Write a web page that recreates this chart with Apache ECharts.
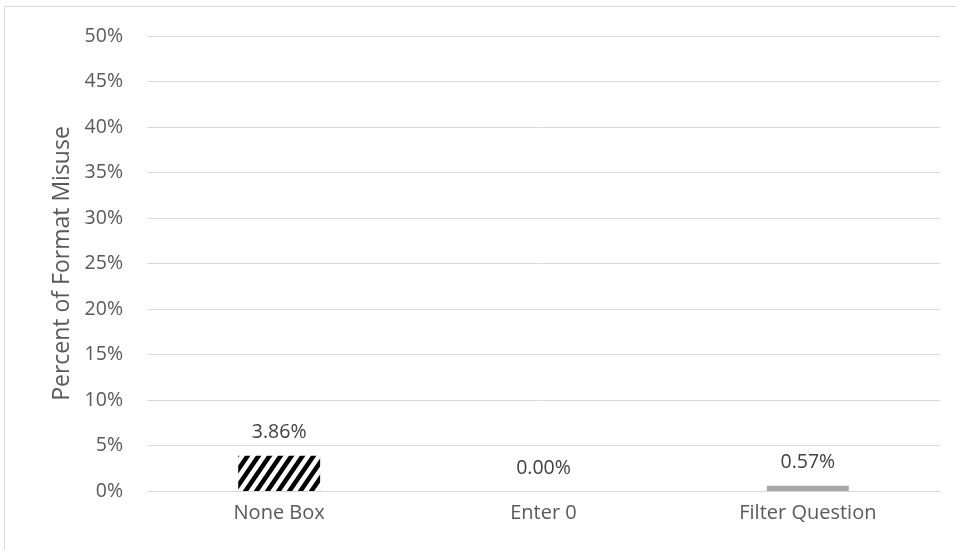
<!DOCTYPE html>
<html><head><meta charset="utf-8">
<script src="https://cdn.jsdelivr.net/npm/echarts@6/dist/echarts.min.js"></script>
<style>html,body{margin:0;padding:0;background:#fff}#c{width:956px;height:550px}</style>
</head><body><div id="c"></div>
<script>
const categories = ['None Box', 'Enter 0', 'Filter Question'];
const values = [3.86, 0.00, 0.57];
const yTicks = [0, 5, 10, 15, 20, 25, 30, 35, 40, 45, 50];

function hatch() {
  const w = 11, h = 16;
  const c = document.createElement('canvas');
  c.width = w; c.height = h;
  const g = c.getContext('2d');
  g.fillStyle = '#fff'; g.fillRect(0, 0, w, h);
  g.strokeStyle = '#000'; g.lineWidth = 4.5;
  for (let k = -2; k <= 2; k++) {
    g.beginPath();
    g.moveTo(k * w - w, 2 * h); g.lineTo(k * w + 2 * w, -h);
    g.stroke();
  }
  return c;
}

const font = '"Open Sans", sans-serif';
const chart = echarts.init(document.getElementById('c'));
chart.setOption({
  animation: false,
  graphic: [{ type: 'rect', shape: { x: 4.5, y: 6.5, width: 1000, height: 600 }, style: { fill: 'none', stroke: '#d9d9d9', lineWidth: 1 } }],
  grid: { left: 147, right: 16, top: 36, bottom: 59 },
  xAxis: {
    type: 'category', data: categories,
    axisLine: { lineStyle: { color: '#d9d9d9' } },
    axisTick: { show: false },
    axisLabel: { color: '#595959', fontSize: 20, fontFamily: font, margin: 12 }
  },
  yAxis: {
    type: 'value', min: yTicks[0], max: yTicks[yTicks.length - 1], interval: 5,
    name: 'Percent of Format Misuse', nameLocation: 'middle', nameGap: 73, nameRotate: 90,
    nameTextStyle: { color: '#595959', fontSize: 23, fontFamily: font },
    axisLine: { show: false }, axisTick: { show: false },
    axisLabel: { color: '#595959', fontSize: 19.5, fontFamily: font, margin: 24, formatter: v => v + '%' },
    splitLine: { lineStyle: { color: '#d9d9d9' } }
  },
  series: [{
    type: 'bar', barWidth: '31%',
    data: values.map((v, i) => ({
      value: v,
      itemStyle: { color: i === 0 ? { image: hatch(), repeat: 'repeat' } : '#a6a6a6' }
    })),
    label: { show: true, position: 'top', distance: 13, color: '#404040', fontSize: 19.5, fontFamily: font, formatter: p => p.value.toFixed(2) + '%' }
  }]
});
</script></body></html>
